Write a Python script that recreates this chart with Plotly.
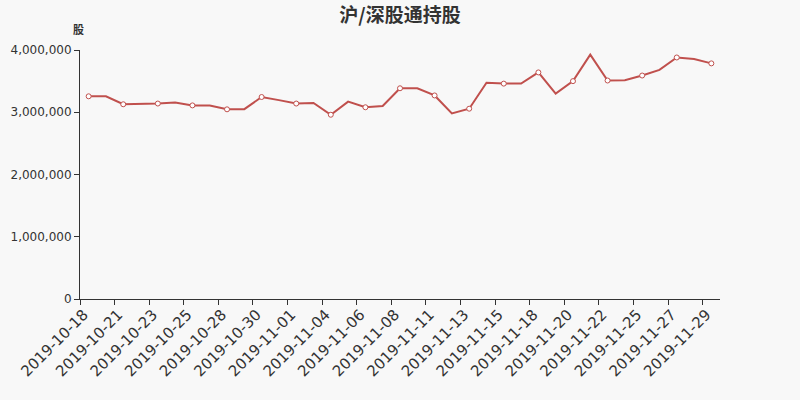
import plotly.graph_objects as go

dates = [
    "2019-10-18", "2019-10-20", "2019-10-21", "2019-10-22", "2019-10-23", "2019-10-24",
    "2019-10-25", "2019-10-27", "2019-10-28", "2019-10-29", "2019-10-30", "2019-10-31",
    "2019-11-01", "2019-11-03", "2019-11-04", "2019-11-05", "2019-11-06", "2019-11-07",
    "2019-11-08", "2019-11-10", "2019-11-11", "2019-11-12", "2019-11-13", "2019-11-14",
    "2019-11-15", "2019-11-17", "2019-11-18", "2019-11-19", "2019-11-20", "2019-11-21",
    "2019-11-22", "2019-11-24", "2019-11-25", "2019-11-26", "2019-11-27", "2019-11-28",
    "2019-11-29",
]
holdings = [
    3256000, 3256000, 3128000, 3130000, 3140000, 3155000,
    3110000, 3110000, 3047000, 3050000, 3245000, 3195000,
    3140000, 3150000, 2960000, 3170000, 3080000, 3100000,
    3385000, 3385000, 3270000, 2980000, 3057000, 3475000,
    3460000, 3460000, 3640000, 3300000, 3500000, 3925000,
    3510000, 3515000, 3590000, 3680000, 3880000, 3855000,
    3785000,
]
y_ticks = [0, 1000000, 2000000, 3000000, 4000000]

RED = "#c0504d"
AXIS = "#333333"
FONT = "DejaVu Sans"

fig = go.Figure()
fig.add_trace(go.Scatter(
    x=dates, y=holdings, mode="lines",
    line=dict(color=RED, width=2), hoverinfo="skip", showlegend=False,
))
fig.add_trace(go.Scatter(
    x=dates[::2], y=holdings[::2], mode="markers",
    marker=dict(color="white", size=5, line=dict(color=RED, width=1)),
    showlegend=False,
))

fig.update_layout(
    width=800, height=400,
    paper_bgcolor="#f8f8f8", plot_bgcolor="#f8f8f8",
    margin=dict(l=80, r=80, t=50, b=101),
    title=dict(text="<b>沪/深股通持股</b>", x=0.5, xanchor="center", y=0.962, yanchor="middle",
               font=dict(family="Noto Sans CJK SC", size=19, color=AXIS)),
    xaxis=dict(
        type="category", categoryorder="array", categoryarray=dates,
        range=[-0.5, len(dates) - 0.5], automargin=False,
        tickmode="linear", tick0=0, dtick=2, tickson="boundaries",
        ticks="outside", ticklen=5, tickcolor=AXIS, tickangle=-45,
        ticklabelshift=-5,
        showline=True, linecolor=AXIS, linewidth=1, showgrid=False, zeroline=False,
        tickfont=dict(family=FONT, size=15, color=AXIS),
    ),
    yaxis=dict(
        range=[0, 4000000], tickvals=y_ticks, tickformat=",d", automargin=False,
        ticks="outside", ticklen=5, tickcolor=AXIS,
        showline=True, linecolor=AXIS, linewidth=1, showgrid=False, zeroline=False,
        tickfont=dict(family=FONT, size=12, color=AXIS),
    ),
    annotations=[dict(
        text="<b>股</b>", xref="paper", yref="paper", x=0, y=1, xshift=-2, yshift=21,
        xanchor="center", yanchor="middle", showarrow=False,
        font=dict(family="Noto Sans CJK SC", size=11, color=AXIS),
    )],
)

fig.write_html("out.html", config={"displayModeBar": False},
               post_script="document.body.style.margin='0';")
